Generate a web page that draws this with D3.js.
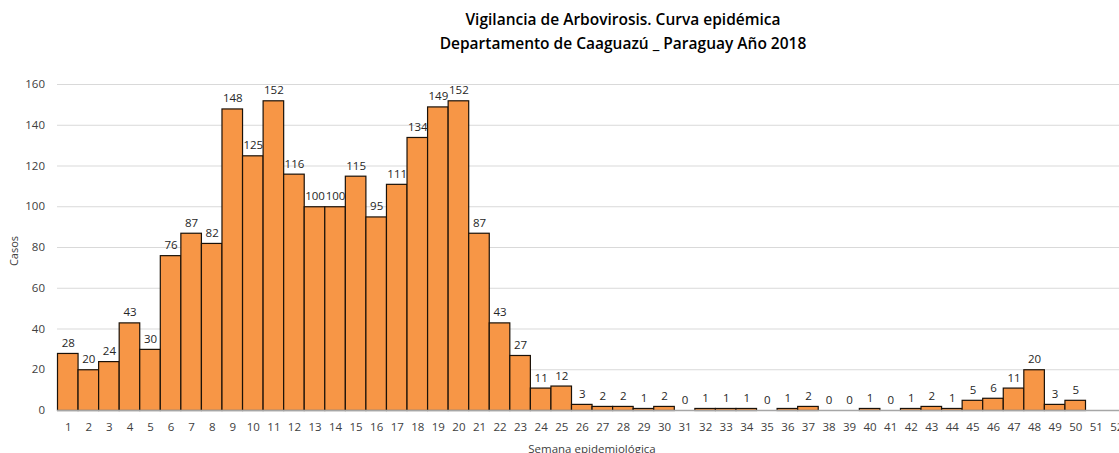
<!DOCTYPE html>
<html><head><meta charset="utf-8">
<script src="https://cdn.jsdelivr.net/npm/d3@7"></script>
<style>
html,body{margin:0;padding:0;background:#fff;overflow:hidden;}
svg{display:block;font-family:"Open Sans","Noto Sans",sans-serif;}
</style></head>
<body>
<svg id="chart" width="1119" height="453"></svg>
<script>
const weeks = d3.range(1, 53).map(String);
const casos = [28,20,24,43,30,76,87,82,148,125,152,116,100,100,115,95,111,134,149,152,87,43,27,11,12,3,2,2,1,2,0,1,1,1,0,1,2,0,0,1,0,1,2,1,5,6,11,20,3,5];
const yTicks = [0,20,40,60,80,100,120,140,160];
const titleLines = ["Vigilancia de Arbovirosis. Curva epidémica","Departamento de Caaguazú _ Paraguay Año 2018"];
const yTitle = "Casos";
const xTitle = "Semana epidemiológica";

(function(){
const data = casos.map((v,i)=>({week: weeks[i], value: v}));
const svg = d3.select("#chart");
const left = 57, bw = 20.56, plotTop = 84, plotBottom = 410;
const x = d3.scaleBand().domain(weeks).range([left, left + bw*weeks.length]).padding(0);
const y = d3.scaleLinear().domain([0,160]).range([plotBottom, plotTop]);

svg.append("g").selectAll("line").data(yTicks.slice(1)).join("line")
  .attr("x1", left).attr("x2", 1119)
  .attr("y1", d=>y(d)+0.5).attr("y2", d=>y(d)+0.5)
  .attr("stroke", "#d9d9d9").attr("stroke-width", 1);

const yAxis = d3.axisLeft(y).tickValues(yTicks).tickSize(0).tickPadding(12);
const gy = svg.append("g").attr("transform", `translate(${left},0)`).call(yAxis);
gy.select(".domain").remove();
gy.selectAll("text").attr("font-size", 11.5).attr("fill", "#404040").attr("font-family", "'Open Sans','Noto Sans',sans-serif");

svg.append("g").selectAll("rect").data(data).join("rect")
  .attr("x", d=>x(d.week)+0.5)
  .attr("y", d=>y(d.value)+0.5)
  .attr("width", x.bandwidth())
  .attr("height", d=>Math.max(0, y(0)-y(d.value)))
  .attr("fill", "#F79646")
  .attr("stroke", "#1a1108")
  .attr("stroke-width", 1.2);

svg.append("line").attr("x1", left).attr("x2", 1119)
  .attr("y1", y(0)+0.5).attr("y2", y(0)+0.5)
  .attr("stroke", "#a6a6a6").attr("stroke-width", 1.5);

svg.append("g").selectAll("text").data(data).join("text")
  .attr("x", d=>x(d.week)+x.bandwidth()/2+1)
  .attr("y", d=>y(d.value)-6)
  .attr("text-anchor", "middle")
  .attr("font-size", 11.5).attr("fill", "#262626")
  .text(d=>d.value);

const xAxis = d3.axisBottom(x).tickSize(0).tickPadding(13);
const gx = svg.append("g").attr("transform", `translate(1,${plotBottom})`).call(xAxis);
gx.select(".domain").remove();
gx.selectAll("text").attr("font-size", 11.5).attr("fill", "#404040").attr("font-family", "'Open Sans','Noto Sans',sans-serif");

svg.append("text").attr("transform", "translate(18,251) rotate(-90)")
  .attr("text-anchor", "middle").attr("font-size", 11).attr("fill", "#404040").text(yTitle);
svg.append("text").attr("x", 592).attr("y", 453)
  .attr("text-anchor", "middle").attr("font-size", 11.5).attr("fill", "#404040").text(xTitle);

svg.append("g").selectAll("text").data(titleLines).join("text")
  .attr("x", 623).attr("y", (d,i)=>25 + i*24)
  .attr("text-anchor", "middle").attr("font-size", 15.5).attr("font-weight", 600).attr("fill", "#000")
  .text(d=>d);
})();
</script>
</body></html>
